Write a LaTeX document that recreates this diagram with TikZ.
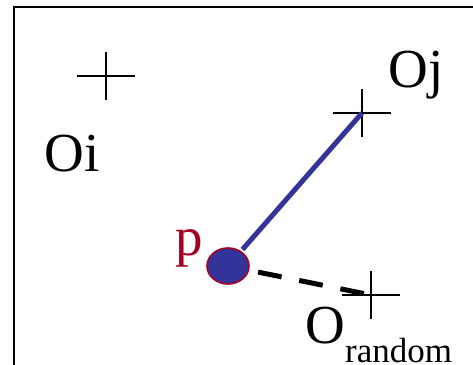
\documentclass[tikz,border=0pt]{standalone}
\usepackage{fontspec}
\setmainfont{Liberation Serif}
\usetikzlibrary{shapes.geometric}
\definecolor{ptblue}{HTML}{333399}
\definecolor{ptred}{HTML}{A50021}
\tikzset{lbl/.style={font=\fontsize{27.5}{30}\selectfont, inner sep=0pt, anchor=base west},
objcross/.pic={\draw[line width=1pt] (-29,0) -- (29,0) (0,-24) -- (0,24);},
pdot_t/.style={ellipse, draw=ptred, fill=ptblue, line width=0.8pt, inner sep=0pt, minimum width=21pt, minimum height=18pt},
near_l/.style={ptblue, line width=2.5pt, shorten <=1pt},
rand_l/.style={line width=2.5pt, dash pattern=on 12pt off 9pt, shorten <=4.5pt, shorten >=3pt}}

\begin{document}
\begin{tikzpicture}[x=0.5pt, y=-0.5pt]
  \useasboundingbox (0,0) rectangle (473,365);
  % frame
  \draw[line width=1.25pt] (14,365) -- (14,7) -- (473,7);
  % objects
  \coordinate (oi) at (106,76);
  \coordinate (oj) at (362,113);
  \coordinate (orand) at (371,295);
  \pic at (oi) {objcross};
  \pic at (oj) {objcross};
  \pic at (orand) {objcross};
  \node[lbl] (oi_t) at (44,171) {Oi};
  \node[lbl] (oj_t) at (388,87) {Oj};
  \node[lbl] (orand_t) at (305,343) {O\raisebox{-9.5pt}{\fontsize{17.5}{19}\selectfont random}};
  % point p
  \node[pdot_t] (pdot) at (228,266) {};
  \node[lbl, text=ptred] (p_t) at (175,255) {p};
  % links
  \draw[near_l] (pdot) -- (oj);
  \draw[rand_l] (pdot) -- (orand);
\end{tikzpicture}
\end{document}
